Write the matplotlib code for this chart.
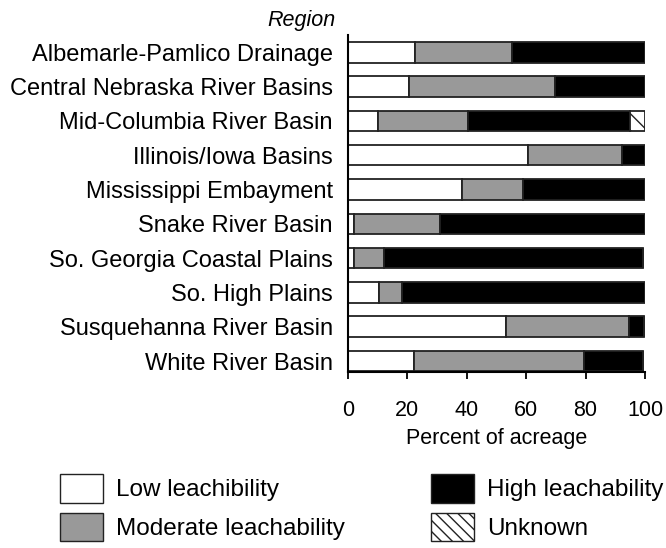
import matplotlib.pyplot as plt
from matplotlib.patches import Patch

plt.rcParams['font.family'] = ['Liberation Sans', 'DejaVu Sans']
plt.rcParams['hatch.linewidth'] = 1.0

regions = ["Albemarle-Pamlico Drainage", "Central Nebraska River Basins",
           "Mid-Columbia River Basin", "Illinois/Iowa Basins",
           "Mississippi Embayment", "Snake River Basin",
           "So. Georgia Coastal Plains", "So. High Plains",
           "Susquehanna River Basin", "White River Basin"]
low = [22.4, 20.5, 10.2, 60.7, 38.5, 2.0, 2.0, 10.5, 53.1, 22.2]
moderate = [32.7, 49.1, 30.1, 31.7, 20.4, 29.0, 10.1, 7.7, 41.6, 57.4]
high = [44.9, 30.4, 54.7, 7.6, 41.1, 69.0, 87.3, 81.8, 5.0, 19.8]
unknown = [0, 0, 5.0, 0, 0, 0, 0, 0, 0, 0]

fig = plt.figure(figsize=(6.66, 5.48), dpi=100)
ax = fig.add_axes([0.5225, 0.321, 0.446, 0.615])

y = list(range(len(regions)))
h = 0.6
ec = "#222222"
lw = 1.3
left = [0] * len(regions)
for vals, fc, hatch in [(low, "white", None), (moderate, "#999999", None),
                        (high, "black", None), (unknown, "white", "\\\\")]:
    ax.barh(y, vals, left=left, height=h, color=fc, edgecolor=ec,
            linewidth=lw, hatch=hatch)
    left = [a + b for a, b in zip(left, vals)]

ax.set_xlim(0, 100)
ax.set_ylim(9.32, -0.5)
ax.set_yticks(y)
ax.set_yticklabels(regions, fontsize=17)
ax.tick_params(axis='y', length=0, pad=11)
ax.set_xticks([0, 20, 40, 60, 80, 100])
ax.tick_params(axis='x', labelsize=15.5, length=5, width=1.3, pad=15)
ax.set_xlabel("Percent of acreage", fontsize=15.5, labelpad=5)
for s in ["top", "right"]:
    ax.spines[s].set_visible(False)
ax.spines["left"].set_linewidth(1.5)
ax.spines["bottom"].set_linewidth(1.5)

fig.text(0.504, 0.962, "Region", fontsize=15.5, style="italic",
         ha="right", va="center")

col1 = [Patch(facecolor="white", edgecolor=ec, label="Low leachibility"),
        Patch(facecolor="#999999", edgecolor=ec, label="Moderate leachability")]
col2 = [Patch(facecolor="black", edgecolor=ec, label="High leachability"),
        Patch(facecolor="white", edgecolor=ec, hatch="\\\\\\", label="Unknown")]
kw = dict(loc="upper left", frameon=False, fontsize=17.5, borderpad=0,
          borderaxespad=0, handlelength=1.77, handleheight=1.45,
          handletextpad=0.55, labelspacing=0.4)
fig.legend(handles=col1, bbox_to_anchor=(60 / 666, 1 - 474 / 548), **kw)
fig.legend(handles=col2, bbox_to_anchor=(431 / 666, 1 - 474 / 548), **kw)

fig.savefig("out.png", dpi=100)
